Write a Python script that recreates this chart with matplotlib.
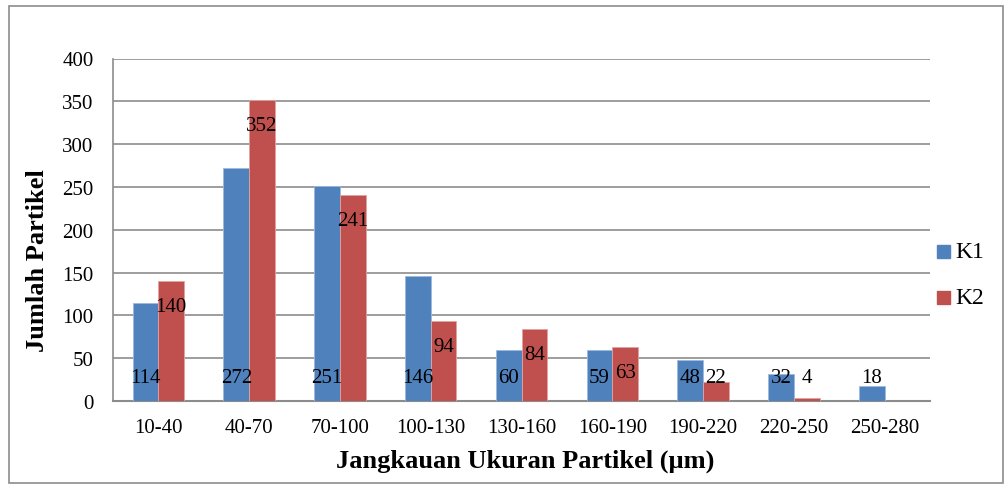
import matplotlib
matplotlib.use("Agg")
import matplotlib.pyplot as plt
from matplotlib.patches import Rectangle
import numpy as np

categories = ["10-40", "40-70", "70-100", "100-130", "130-160", "160-190", "190-220", "220-250", "250-280"]
k1 = [114, 272, 251, 146, 60, 59, 48, 32, 18]
k2 = [140, 352, 241, 94, 84, 63, 22, 4, None]
series_names = ["K1", "K2"]
yticks = [0, 50, 100, 150, 200, 250, 300, 350, 400]

plt.rcParams['font.family'] = ['Liberation Serif', 'DejaVu Serif']

W, H = 1005, 485
fig = plt.figure(figsize=(W/100, H/100), dpi=100)
ax = fig.add_axes([113/W, 1-402/H, (930-113)/W, (402-59.5)/H])

blue = "#4F81BD"
red = "#C0504D"
x = np.arange(len(categories))
bw = 0.283
k2v = [v if v is not None else 0 for v in k2]
b1 = ax.bar(x - bw/2, k1, bw, color=blue, edgecolor="#9DB9DF", linewidth=0.6, label=series_names[0], zorder=3)
b2 = ax.bar(x + bw/2, k2v, bw, color=red, edgecolor="#E0A3A1", linewidth=0.6, label=series_names[1], zorder=3)
for i, v in enumerate(k2):
    if v is None:
        b2[i].set_visible(False)

ax.set_xlim(-0.5, len(categories) - 0.5)
ax.set_ylim(0, 400)
ax.set_yticks(yticks)
ax.set_xticks(x)
ax.set_xticklabels(categories)
ax.tick_params(axis='both', length=0, labelsize=15)
ax.tick_params(axis='y', pad=14)
ax.tick_params(axis='x', pad=12)
ax.grid(axis='y', color="#8C8C8C", linewidth=1.2, zorder=0)
ax.set_axisbelow(True)
for s in ["top", "right"]:
    ax.spines[s].set_visible(False)
ax.spines["left"].set_color("#8C8C8C")
ax.spines["bottom"].set_color("#8C8C8C")
ax.spines["left"].set_linewidth(1.2)
ax.spines["bottom"].set_linewidth(1.5)

base_y = 28
for i, v in enumerate(k1):
    ax.text(x[i] - bw/2, base_y, str(v), ha='center', va='center', fontsize=15, zorder=4)
for i, v in enumerate(k2):
    if v is None:
        continue
    y = max(v - 30, base_y)
    ax.text(x[i] + bw/2, y, str(v), ha='center', va='center', fontsize=15, zorder=4)

fig.text(37/W, 1-261/H, "Jumlah Partikel", rotation=90, ha='center', va='center', fontsize=19, fontweight='bold')
fig.text(525/W, 1-461/H, "Jangkauan Ukuran Partikel (\u00b5m)", ha='center', va='center', fontsize=19, fontweight='bold')

for j, (name, col) in enumerate(zip(series_names, [blue, red])):
    yc = 252 + j * 46
    fig.patches.append(Rectangle((937/W, 1-(yc+6.5)/H), 13/W, 13/H, transform=fig.transFigure, color=col))
    fig.text(955/W, 1-yc/H, name, ha='left', va='center', fontsize=17)

fig.patches.append(Rectangle((9/W, 1-484/H), (1003-9)/W, (484-7)/H, transform=fig.transFigure,
                             fill=False, edgecolor="#8C8C8C", linewidth=1.2))

fig.savefig("out.png", dpi=100)
